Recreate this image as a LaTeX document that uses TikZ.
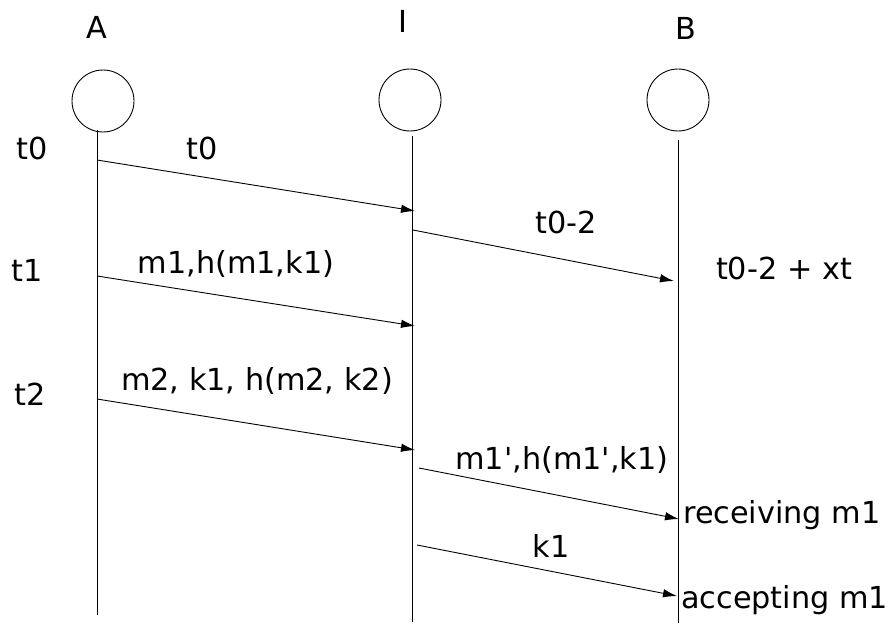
\documentclass[tikz,border=0pt]{standalone}
\usepackage{fontspec}
\setmainfont{DejaVu Sans}
\usetikzlibrary{arrows.meta}
\newcommand{\sq}{\XeTeXglyph\XeTeXcharglyph"0027\relax}
\begin{document}
\begin{tikzpicture}[x=1pt,y=-1pt,
  lbl/.style={inner sep=0pt,font=\fontsize{30.3}{36}\selectfont},
  actor/.style={circle,draw,line width=0.9pt,minimum size=62pt,inner sep=0pt},
  life/.style={line width=0.9pt},
  msg/.style={line width=0.9pt,-{Latex[length=14pt,width=8.5pt]}}]
\useasboundingbox (0,0) rectangle (893,623);
% actors
\node[actor] (ca) at (103,101) {};
\node[actor] (ci) at (410,100) {};
\node[actor] (cb) at (678,100) {};
\node[lbl] (la) at (97,27) {A};
\node[lbl] (li) at (403,21) {I};
\node[lbl] (lb) at (686,28) {B};
% lifelines
\coordinate (a0) at (97,130); \coordinate (a1) at (97,615);
\coordinate (i0) at (412,136); \coordinate (i1) at (412,622);
\coordinate (b0) at (678,140); \coordinate (b1) at (678,623);
\draw[life] (a0) -- (a1);
\draw[life] (i0) -- (i1);
\draw[life] (b0) -- (b1);
% message end points
\coordinate (s1) at (97,160);  \coordinate (e1) at (415,211);
\coordinate (s2) at (413,230); \coordinate (e2) at (674,281);
\coordinate (s3) at (97,276);  \coordinate (e3) at (415,326);
\coordinate (s4) at (97,399);  \coordinate (e4) at (415,450);
\coordinate (s5) at (419,468); \coordinate (e5) at (679,519);
\coordinate (s6) at (417,545); \coordinate (e6) at (677,596);
\draw[msg] (s1) -- (e1);
\draw[msg] (s2) -- (e2);
\draw[msg] (s3) -- (e3);
\draw[msg] (s4) -- (e4);
\draw[msg] (s5) -- (e5);
\draw[msg] (s6) -- (e6);
% message labels
\node[lbl] (m1) at (202,148) {t0};
\node[lbl] (m2) at (566,222) {t0-2};
\node[lbl] (m3) at (236,264) {m1,h(m1,k1)};
\node[lbl] (m4) at (257,381) {m2, k1, h(m2, k2)};
\node[lbl] (m5) at (562,460) {m1\sq,h(m1\sq,k1)};
\node[lbl] (m6) at (551,546) {k1};
% time labels
\node[lbl] (t0) at (32,148) {t0};
\node[lbl] (t1) at (27,270) {t1};
\node[lbl] (t2) at (30,394) {t2};
\node[lbl] (tb) at (784,268) {t0-2 + xt};
\node[lbl,anchor=west] (rc) at (683,515) {receiving m1};
\node[lbl,anchor=west] (ac) at (681,600) {accepting m1};
\end{tikzpicture}
\end{document}
